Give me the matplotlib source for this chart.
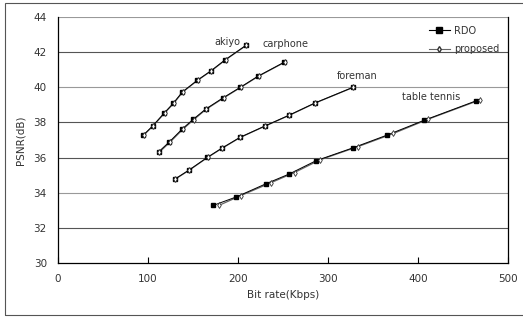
import matplotlib
matplotlib.use("Agg")
import matplotlib.pyplot as plt
from matplotlib.patches import Rectangle
from matplotlib.lines import Line2D

# RDO curves (bit rate in Kbps, PSNR in dB)
akiyo_rate = [94.8, 105.2, 118.1, 128.1, 138.1, 154.8, 170.0, 185.9, 208.9]
akiyo_psnr = [37.28, 37.80, 38.54, 39.09, 39.73, 40.40, 40.94, 41.57, 42.39]
carphone_rate = [111.9, 123.7, 138.1, 150.3, 164.1, 183.7, 202.6, 222.2, 251.1]
carphone_psnr = [36.33, 36.89, 37.63, 38.18, 38.76, 39.41, 40.00, 40.63, 41.42]
foreman_rate = [130.0, 145.6, 165.9, 181.9, 202.2, 230.0, 256.7, 285.6, 327.8]
foreman_psnr = [34.78, 35.29, 36.01, 36.53, 37.15, 37.80, 38.41, 39.11, 40.00]
tennis_rate = [172.6, 198.1, 231.1, 256.7, 286.7, 328.1, 365.2, 406.7, 464.1]
tennis_psnr = [33.28, 33.76, 34.51, 35.06, 35.82, 36.56, 37.27, 38.12, 39.22]

# proposed curves
akiyo_rate_p = [95.3, 105.7, 118.6, 128.6, 138.6, 155.3, 170.5, 186.4, 209.4]
akiyo_psnr_p = [37.28, 37.80, 38.54, 39.09, 39.73, 40.40, 40.94, 41.57, 42.39]
carphone_rate_p = [112.5, 124.3, 138.7, 150.9, 164.7, 184.3, 203.2, 222.8, 251.7]
carphone_psnr_p = [36.30, 36.87, 37.61, 38.16, 38.75, 39.40, 40.00, 40.63, 41.42]
foreman_rate_p = [130.5, 146.1, 166.4, 182.4, 202.7, 230.5, 257.2, 286.1, 328.3]
foreman_psnr_p = [34.78, 35.29, 36.01, 36.53, 37.15, 37.80, 38.41, 39.11, 40.00]
tennis_rate_p = [178.9, 203.3, 236.7, 262.8, 291.1, 333.7, 372.6, 411.1, 468.9]
tennis_psnr_p = [33.28, 33.84, 34.57, 35.15, 35.87, 36.63, 37.37, 38.18, 39.28]

seq_names = ["akiyo", "carphone", "foreman", "table tennis"]
name_x = [188, 253, 332, 415]
name_y = [42.58, 42.46, 40.66, 39.46]

rdo = [(akiyo_rate, akiyo_psnr), (carphone_rate, carphone_psnr),
       (foreman_rate, foreman_psnr), (tennis_rate, tennis_psnr)]
prop = [(akiyo_rate_p, akiyo_psnr_p), (carphone_rate_p, carphone_psnr_p),
        (foreman_rate_p, foreman_psnr_p), (tennis_rate_p, tennis_psnr_p)]

plt.rcParams['font.family'] = ['DejaVu Sans']
fig = plt.figure(figsize=(5.23, 3.18), dpi=100)
fig.patches.append(Rectangle((5 / 523, 3 / 318), 1.2, 312 / 318, transform=fig.transFigure,
                             fill=False, edgecolor='#555555', linewidth=0.8))
ax = fig.add_axes([58 / 523, 55 / 318, 450 / 523, 246 / 318])

for y in range(32, 45, 2):
    gc = '#999999' if y in (34, 40, 44) else '#555555'
    ax.axhline(y, color=gc, linewidth=0.8, zorder=0)

for (x, y) in prop:
    ax.plot(x, y, color='#666666', linewidth=0.9, zorder=2)
for (x, y) in rdo:
    ax.plot(x, y, color='black', linewidth=0.7, marker='s', markersize=3.2,
            markerfacecolor='black', markeredgecolor='black', zorder=3)
for (x, y) in prop:
    ax.plot(x, y, linestyle='none', marker='d', markersize=3,
            markerfacecolor='white', markeredgecolor='#333333', markeredgewidth=0.6, zorder=4)

for name, tx, ty in zip(seq_names, name_x, name_y):
    ax.text(tx, ty, name, fontsize=7, color='#333333', ha='center', va='center')

ax.set_xlim(0, 500)
ax.set_ylim(30, 44)
ax.set_xticks(range(0, 501, 100))
ax.set_yticks(range(30, 45, 2))
ax.tick_params(axis='x', direction='in', length=4, labelsize=7.5, labelcolor='#333333', pad=8)
ax.tick_params(axis='y', length=0, labelsize=7.5, labelcolor='#333333', pad=8)
ax.spines['top'].set_visible(False)
for s in ['left', 'bottom', 'right']:
    ax.spines[s].set_linewidth(0.9)
ax.set_xlabel('Bit rate(Kbps)', fontsize=7.5, color='#333333', labelpad=4)
ax.set_ylabel('PSNR(dB)', fontsize=7.5, color='#333333', labelpad=6)

handles = [Line2D([], [], color='black', linewidth=0.8, marker='s', markersize=4),
           Line2D([], [], color='#666666', linewidth=0.8, marker='d', markersize=3,
                  markerfacecolor='white', markeredgecolor='#333333')]
leg = ax.legend(handles, ['RDO', 'proposed'], loc='upper right', frameon=False,
                fontsize=7, handlelength=2.2, handletextpad=0.4, labelspacing=0.9,
                bbox_to_anchor=(1.0, 1.0))
for t in leg.get_texts():
    t.set_color('#333333')

fig.savefig('out.png', dpi=100)
